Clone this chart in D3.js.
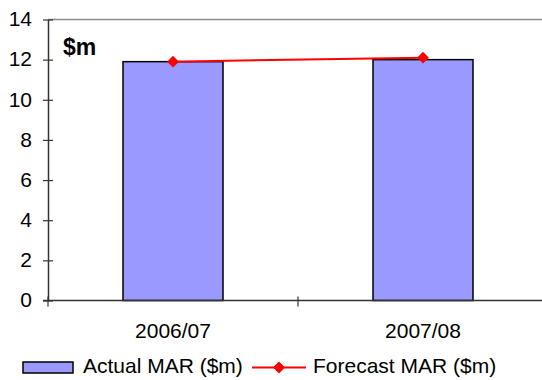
<!DOCTYPE html>
<html>
<head>
<meta charset="utf-8">
<script src="https://cdn.jsdelivr.net/npm/d3@7"></script>
<style>
  body { margin: 0; background: #fff; }
  svg { display: block; font-family: "Liberation Sans", Arial, sans-serif; }
</style>
</head>
<body>
<svg id="chart" width="542" height="380"></svg>
<script>
// Chart data
const categories = ["2006/07", "2007/08"];
const actualMAR = [11.9, 12.0];
const forecastMAR = [11.9, 12.1];
const yTicks = [0, 2, 4, 6, 8, 10, 12, 14];
const seriesNames = ["Actual MAR ($m)", "Forecast MAR ($m)"];

const svg = d3.select("#chart");
const plotLeft = 48, plotRight = 548, plotTop = 19.5, plotBottom = 300.5;
const fontSize = 21;

const x = d3.scaleBand().domain(categories).range([plotLeft, plotRight]).paddingInner(0.6).paddingOuter(0.3);
const xEdges = d3.scaleLinear().domain([0, categories.length]).range([plotLeft, plotRight]);
const y = d3.scaleLinear().domain([0, 14]).range([plotBottom, plotTop]);

// Top border of plot area
svg.append("line")
  .attr("x1", plotLeft).attr("x2", 542)
  .attr("y1", y(14)).attr("y2", y(14))
  .attr("stroke", "#8c8c8c").attr("stroke-width", 1.5);

// Bars
svg.selectAll("rect.bar").data(actualMAR).enter().append("rect")
  .attr("class", "bar")
  .attr("x", (d, i) => x(categories[i]))
  .attr("width", x.bandwidth())
  .attr("y", d => y(d))
  .attr("height", d => y(0) - y(d))
  .attr("fill", "#9999ff")
  .attr("stroke", "#000").attr("stroke-width", 1.5);

// Y axis
const yAxis = svg.append("g").attr("transform", `translate(${plotLeft},0)`)
  .call(d3.axisLeft(y).tickValues(yTicks).tickSize(5).tickPadding(11).tickSizeOuter(0));
yAxis.select(".domain").attr("stroke", "#333").attr("stroke-width", 1.5);
yAxis.selectAll(".tick line").attr("x2", 5).attr("x1", -5).attr("stroke", "#333").attr("stroke-width", 1.2);
yAxis.selectAll(".tick text")
  .attr("font-size", fontSize).attr("fill", "#000")
  .attr("font-family", "'Liberation Sans', Arial, sans-serif")
  .attr("x", -16).attr("dy", "0.3em");

// X axis line and boundary ticks
svg.append("line")
  .attr("x1", plotLeft - 5).attr("x2", 542)
  .attr("y1", y(0)).attr("y2", y(0))
  .attr("stroke", "#333").attr("stroke-width", 1.5);
svg.selectAll("line.xtick").data(d3.range(categories.length + 1)).enter().append("line")
  .attr("class", "xtick")
  .attr("x1", d => xEdges(d)).attr("x2", d => xEdges(d))
  .attr("y1", y(0) - 4).attr("y2", y(0) + 6)
  .attr("stroke", "#333").attr("stroke-width", 1.2);

svg.selectAll("text.xlab").data(categories).enter().append("text")
  .attr("class", "xlab")
  .attr("x", d => x(d) + x.bandwidth() / 2)
  .attr("y", 338)
  .attr("text-anchor", "middle")
  .attr("font-size", fontSize)
  .text(d => d);

// Forecast line with diamond markers
const line = d3.line().x((d, i) => x(categories[i]) + x.bandwidth() / 2).y(d => y(d));
svg.append("path").datum(forecastMAR)
  .attr("d", line).attr("fill", "none")
  .attr("stroke", "#ff0000").attr("stroke-width", 2);
const diamond = d3.symbol().type(d3.symbolDiamond2).size(90);
svg.selectAll("path.mk").data(forecastMAR).enter().append("path")
  .attr("class", "mk")
  .attr("d", diamond)
  .attr("transform", (d, i) => `translate(${x(categories[i]) + x.bandwidth() / 2},${y(d)})`)
  .attr("fill", "#ff0000");

// Unit label
svg.append("text").attr("x", 63).attr("y", 55)
  .attr("font-size", 23).attr("font-weight", "bold").text("$m");

// Legend
const leg = svg.append("g");
leg.append("rect").attr("x", 23).attr("y", 362).attr("width", 50).attr("height", 11)
  .attr("fill", "#9999ff").attr("stroke", "#000").attr("stroke-width", 1.5);
leg.append("text").attr("x", 83).attr("y", 373).attr("font-size", fontSize)
  .text(seriesNames[0]);
leg.append("line").attr("x1", 252).attr("x2", 306).attr("y1", 367.5).attr("y2", 367.5)
  .attr("stroke", "#ff0000").attr("stroke-width", 2);
leg.append("path").attr("d", diamond).attr("transform", "translate(279,367.5)").attr("fill", "#ff0000");
leg.append("text").attr("x", 313).attr("y", 373).attr("font-size", fontSize)
  .text(seriesNames[1]);
</script>
</body>
</html>
